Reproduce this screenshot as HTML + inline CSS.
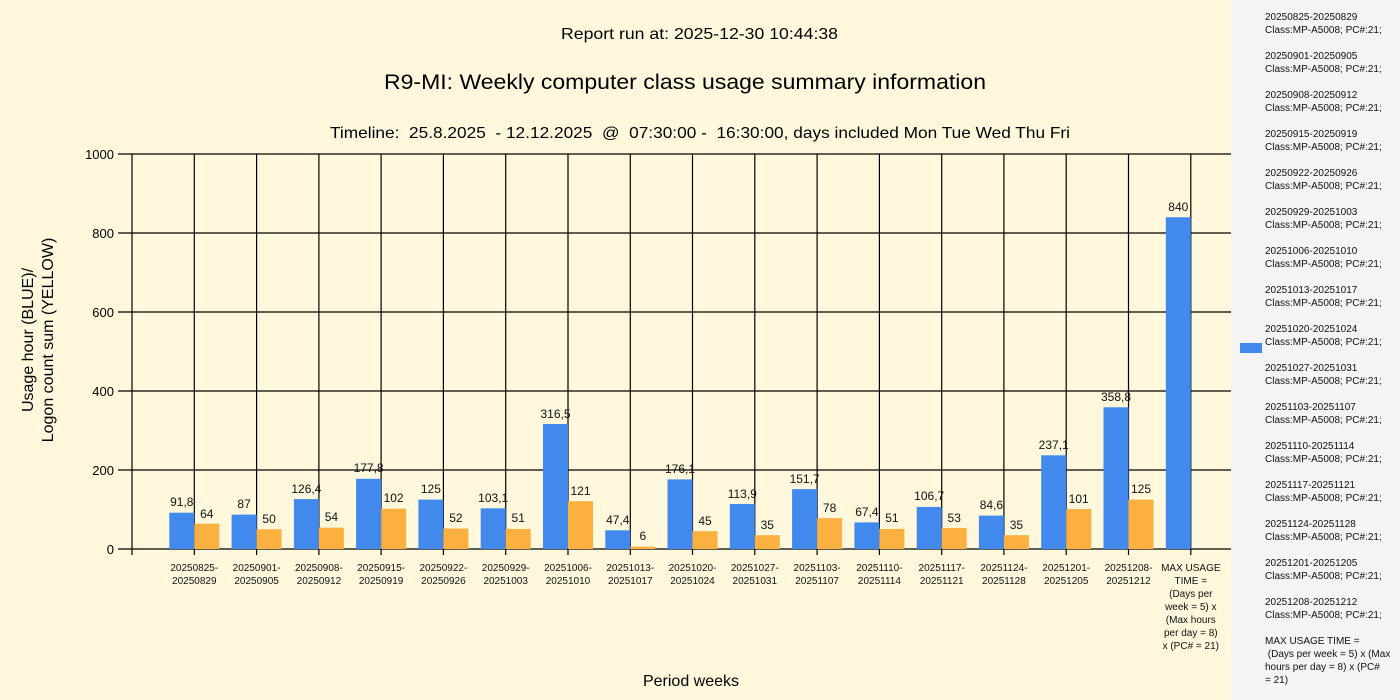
<!DOCTYPE html>
<html><head><meta charset="utf-8"><style>
html,body{margin:0;padding:0;width:1400px;height:700px;overflow:hidden;background:#fff8dc}
svg{display:block}
text{font-family:"Liberation Sans",sans-serif}
.v{font-size:12px;text-anchor:middle;fill:#111}
.x{font-size:10px;text-anchor:middle;fill:#111}
.lg{font-size:10px;fill:#111}
</style></head><body>
<svg width="1400" height="700" xmlns="http://www.w3.org/2000/svg">
<rect x="0" y="0" width="1231" height="700" fill="#fff8dc"/>
<rect x="1231" y="0" width="169" height="700" fill="#f4f4f4"/>
<text x="561" y="39" font-size="16" textLength="277" lengthAdjust="spacingAndGlyphs">Report run at: 2025-12-30 10:44:38</text>
<text x="384" y="89" font-size="21" textLength="602" lengthAdjust="spacingAndGlyphs">R9-MI: Weekly computer class usage summary information</text>
<text x="330" y="138" font-size="16" textLength="740" lengthAdjust="spacingAndGlyphs" xml:space="preserve">Timeline:  25.8.2025  - 12.12.2025  @  07:30:00 -  16:30:00, days included Mon Tue Wed Thu Fri</text>
<text x="691" y="686" font-size="16" text-anchor="middle">Period weeks</text>
<g transform="translate(0,340) rotate(-90)" font-size="16" text-anchor="middle">
<text x="0" y="33">Usage hour (BLUE)/</text>
<text x="0" y="53">Logon count sum (YELLOW)</text>
</g>
<g stroke="#000" stroke-width="1.2">
<line x1="118" y1="154" x2="1231" y2="154"/>
<line x1="118" y1="233" x2="1231" y2="233"/>
<line x1="118" y1="312" x2="1231" y2="312"/>
<line x1="118" y1="391" x2="1231" y2="391"/>
<line x1="118" y1="470" x2="1231" y2="470"/>
<line x1="118" y1="549" x2="1231" y2="549"/>
<line x1="132" y1="154" x2="132" y2="555"/>
<line x1="194.3" y1="154" x2="194.3" y2="555"/>
<line x1="256.6" y1="154" x2="256.6" y2="555"/>
<line x1="318.9" y1="154" x2="318.9" y2="555"/>
<line x1="381.1" y1="154" x2="381.1" y2="555"/>
<line x1="443.4" y1="154" x2="443.4" y2="555"/>
<line x1="505.7" y1="154" x2="505.7" y2="555"/>
<line x1="568" y1="154" x2="568" y2="555"/>
<line x1="630.3" y1="154" x2="630.3" y2="555"/>
<line x1="692.5" y1="154" x2="692.5" y2="555"/>
<line x1="754.8" y1="154" x2="754.8" y2="555"/>
<line x1="817.1" y1="154" x2="817.1" y2="555"/>
<line x1="879.4" y1="154" x2="879.4" y2="555"/>
<line x1="941.7" y1="154" x2="941.7" y2="555"/>
<line x1="1003.9" y1="154" x2="1003.9" y2="555"/>
<line x1="1066.2" y1="154" x2="1066.2" y2="555"/>
<line x1="1128.5" y1="154" x2="1128.5" y2="555"/>
<line x1="1190.8" y1="154" x2="1190.8" y2="555"/>
</g>
<g font-size="13" text-anchor="end">
<text x="114" y="159">1000</text><text x="114" y="238">800</text><text x="114" y="317">600</text>
<text x="114" y="396">400</text><text x="114" y="475">200</text><text x="114" y="554">0</text>
</g>
<g fill="#4189ed">
<rect x="169.3" y="512.7" width="25" height="36.3"/>
<rect x="231.6" y="514.6" width="25" height="34.4"/>
<rect x="293.9" y="499.1" width="25" height="49.9"/>
<rect x="356.1" y="478.8" width="25" height="70.2"/>
<rect x="418.4" y="499.6" width="25" height="49.4"/>
<rect x="480.7" y="508.3" width="25" height="40.7"/>
<rect x="543" y="424" width="25" height="125"/>
<rect x="605.3" y="530.3" width="25" height="18.7"/>
<rect x="667.5" y="479.4" width="25" height="69.6"/>
<rect x="729.8" y="504" width="25" height="45"/>
<rect x="792.1" y="489.1" width="25" height="59.9"/>
<rect x="854.4" y="522.4" width="25" height="26.6"/>
<rect x="916.7" y="506.9" width="25" height="42.1"/>
<rect x="978.9" y="515.6" width="25" height="33.4"/>
<rect x="1041.2" y="455.3" width="25" height="93.7"/>
<rect x="1103.5" y="407.3" width="25" height="141.7"/>
<rect x="1165.8" y="217.2" width="25" height="331.8"/>
</g>
<g fill="#fbb040">
<rect x="194.3" y="523.7" width="25" height="25.3"/>
<rect x="256.6" y="529.25" width="25" height="19.75"/>
<rect x="318.9" y="527.7" width="25" height="21.3"/>
<rect x="381.1" y="508.7" width="25" height="40.3"/>
<rect x="443.4" y="528.5" width="25" height="20.5"/>
<rect x="505.7" y="528.9" width="25" height="20.1"/>
<rect x="568" y="501.2" width="25" height="47.8"/>
<rect x="630.3" y="546.6" width="25" height="2.4"/>
<rect x="692.5" y="531.2" width="25" height="17.8"/>
<rect x="754.8" y="535.2" width="25" height="13.8"/>
<rect x="817.1" y="518.2" width="25" height="30.8"/>
<rect x="879.4" y="528.9" width="25" height="20.1"/>
<rect x="941.7" y="528.1" width="25" height="20.9"/>
<rect x="1003.9" y="535.2" width="25" height="13.8"/>
<rect x="1066.2" y="509.1" width="25" height="39.9"/>
<rect x="1128.5" y="499.6" width="25" height="49.4"/>
</g>
<g class="v">
<text class="v" x="181.8" y="506">91,8</text><text class="v" x="206.8" y="518">64</text>
<text class="v" x="244.1" y="508">87</text><text class="v" x="269.1" y="523">50</text>
<text class="v" x="306.4" y="493">126,4</text><text class="v" x="331.4" y="521">54</text>
<text class="v" x="368.6" y="472">177,8</text><text class="v" x="393.6" y="502">102</text>
<text class="v" x="430.9" y="493">125</text><text class="v" x="455.9" y="522">52</text>
<text class="v" x="493.2" y="502">103,1</text><text class="v" x="518.2" y="522">51</text>
<text class="v" x="555.5" y="418">316,5</text><text class="v" x="580.5" y="495">121</text>
<text class="v" x="617.8" y="524">47,4</text><text class="v" x="642.8" y="540">6</text>
<text class="v" x="680" y="473">176,1</text><text class="v" x="705" y="525">45</text>
<text class="v" x="742.3" y="498">113,9</text><text class="v" x="767.3" y="529">35</text>
<text class="v" x="804.6" y="483">151,7</text><text class="v" x="829.6" y="512">78</text>
<text class="v" x="866.9" y="516">67,4</text><text class="v" x="891.9" y="522">51</text>
<text class="v" x="929.2" y="500">106,7</text><text class="v" x="954.2" y="522">53</text>
<text class="v" x="991.4" y="509">84,6</text><text class="v" x="1016.4" y="529">35</text>
<text class="v" x="1053.7" y="449">237,1</text><text class="v" x="1078.7" y="503">101</text>
<text class="v" x="1116" y="401">358,8</text><text class="v" x="1141" y="493">125</text>
<text class="v" x="1178.3" y="211">840</text>
</g>
<g class="x">
<text class="x" x="194.3" y="571">20250825-</text><text class="x" x="194.3" y="584">20250829</text>
<text class="x" x="256.6" y="571">20250901-</text><text class="x" x="256.6" y="584">20250905</text>
<text class="x" x="318.9" y="571">20250908-</text><text class="x" x="318.9" y="584">20250912</text>
<text class="x" x="381.1" y="571">20250915-</text><text class="x" x="381.1" y="584">20250919</text>
<text class="x" x="443.4" y="571">20250922-</text><text class="x" x="443.4" y="584">20250926</text>
<text class="x" x="505.7" y="571">20250929-</text><text class="x" x="505.7" y="584">20251003</text>
<text class="x" x="568" y="571">20251006-</text><text class="x" x="568" y="584">20251010</text>
<text class="x" x="630.3" y="571">20251013-</text><text class="x" x="630.3" y="584">20251017</text>
<text class="x" x="692.5" y="571">20251020-</text><text class="x" x="692.5" y="584">20251024</text>
<text class="x" x="754.8" y="571">20251027-</text><text class="x" x="754.8" y="584">20251031</text>
<text class="x" x="817.1" y="571">20251103-</text><text class="x" x="817.1" y="584">20251107</text>
<text class="x" x="879.4" y="571">20251110-</text><text class="x" x="879.4" y="584">20251114</text>
<text class="x" x="941.7" y="571">20251117-</text><text class="x" x="941.7" y="584">20251121</text>
<text class="x" x="1003.9" y="571">20251124-</text><text class="x" x="1003.9" y="584">20251128</text>
<text class="x" x="1066.2" y="571">20251201-</text><text class="x" x="1066.2" y="584">20251205</text>
<text class="x" x="1128.5" y="571">20251208-</text><text class="x" x="1128.5" y="584">20251212</text>
<text class="x" x="1190.8" y="571">MAX USAGE</text><text class="x" x="1190.8" y="584">TIME =</text>
<text class="x" x="1190.8" y="597">(Days per</text><text class="x" x="1190.8" y="610">week = 5) x</text>
<text class="x" x="1190.8" y="623">(Max hours</text><text class="x" x="1190.8" y="636">per day = 8)</text>
<text class="x" x="1190.8" y="649">x (PC# = 21)</text>
</g>
<rect x="1240" y="343" width="22" height="10" fill="#4189ed"/>
<g class="lg">
<text class="lg" x="1265" y="20">20250825-20250829</text><text class="lg" x="1265" y="33">Class:MP-A5008; PC#:21;</text>
<text class="lg" x="1265" y="59">20250901-20250905</text><text class="lg" x="1265" y="72">Class:MP-A5008; PC#:21;</text>
<text class="lg" x="1265" y="98">20250908-20250912</text><text class="lg" x="1265" y="111">Class:MP-A5008; PC#:21;</text>
<text class="lg" x="1265" y="137">20250915-20250919</text><text class="lg" x="1265" y="150">Class:MP-A5008; PC#:21;</text>
<text class="lg" x="1265" y="176">20250922-20250926</text><text class="lg" x="1265" y="189">Class:MP-A5008; PC#:21;</text>
<text class="lg" x="1265" y="215">20250929-20251003</text><text class="lg" x="1265" y="228">Class:MP-A5008; PC#:21;</text>
<text class="lg" x="1265" y="254">20251006-20251010</text><text class="lg" x="1265" y="267">Class:MP-A5008; PC#:21;</text>
<text class="lg" x="1265" y="293">20251013-20251017</text><text class="lg" x="1265" y="306">Class:MP-A5008; PC#:21;</text>
<text class="lg" x="1265" y="332">20251020-20251024</text><text class="lg" x="1265" y="345">Class:MP-A5008; PC#:21;</text>
<text class="lg" x="1265" y="371">20251027-20251031</text><text class="lg" x="1265" y="384">Class:MP-A5008; PC#:21;</text>
<text class="lg" x="1265" y="410">20251103-20251107</text><text class="lg" x="1265" y="423">Class:MP-A5008; PC#:21;</text>
<text class="lg" x="1265" y="449">20251110-20251114</text><text class="lg" x="1265" y="462">Class:MP-A5008; PC#:21;</text>
<text class="lg" x="1265" y="488">20251117-20251121</text><text class="lg" x="1265" y="501">Class:MP-A5008; PC#:21;</text>
<text class="lg" x="1265" y="527">20251124-20251128</text><text class="lg" x="1265" y="540">Class:MP-A5008; PC#:21;</text>
<text class="lg" x="1265" y="566">20251201-20251205</text><text class="lg" x="1265" y="579">Class:MP-A5008; PC#:21;</text>
<text class="lg" x="1265" y="605">20251208-20251212</text><text class="lg" x="1265" y="618">Class:MP-A5008; PC#:21;</text>
<text class="lg" x="1265" y="644">MAX USAGE TIME =</text>
<text class="lg" x="1265" y="657" xml:space="preserve"> (Days per week = 5) x (Max</text>
<text class="lg" x="1265" y="670">hours per day = 8) x (PC#</text>
<text class="lg" x="1265" y="683">= 21)</text>
</g>
</svg>
</body></html>
